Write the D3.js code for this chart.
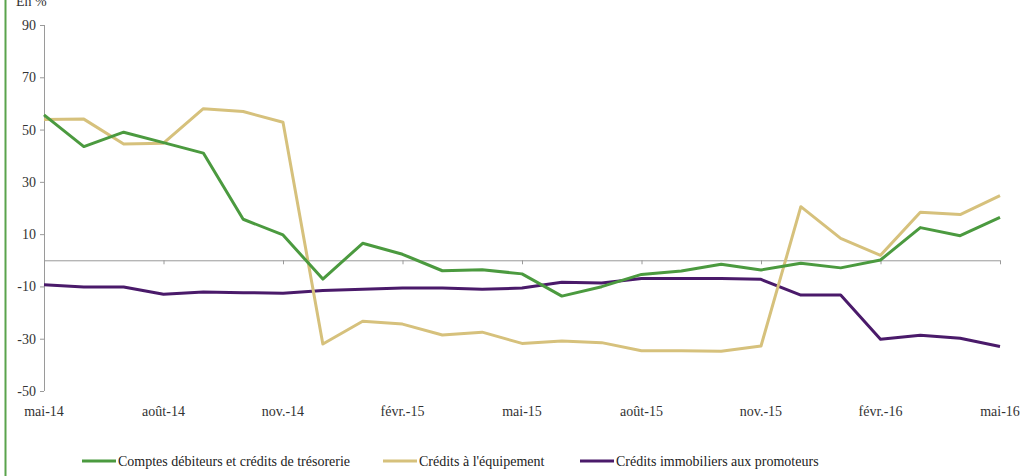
<!DOCTYPE html>
<html><head><meta charset="utf-8">
<script src="https://cdn.jsdelivr.net/npm/d3@7"></script>
<style>body{margin:0;background:#fff}svg{display:block}</style>
</head><body><div id="c"></div>
<script>
const months = ["mai-14","juin-14","juil.-14","août-14","sept.-14","oct.-14","nov.-14","déc.-14","janv.-15","févr.-15","mars-15","avr.-15","mai-15","juin-15","juil.-15","août-15","sept.-15","oct.-15","nov.-15","déc.-15","janv.-16","févr.-16","mars-16","avr.-16","mai-16"];
const comptes = [55.6,43.5,49,45,41,15.7,9.7,-7.2,6.5,2.3,-4,-3.6,-5.2,-13.7,-10.1,-5.4,-4.1,-1.5,-3.7,-1.1,-2.9,0.1,12.5,9.4,16.4];
const equipement = [53.9,54,44.5,44.8,58,56.9,52.8,-32,-23.3,-24.4,-28.6,-27.5,-31.8,-30.9,-31.5,-34.6,-34.6,-34.8,-32.8,20.5,8.4,1.9,18.4,17.5,24.7];
const promoteurs = [-9.4,-10.2,-10.2,-13,-12.1,-12.4,-12.6,-11.6,-11.1,-10.6,-10.6,-11.1,-10.6,-8.4,-8.7,-7,-7,-7,-7.3,-13.3,-13.3,-30.2,-28.7,-29.8,-33];
const seriesNames = ["Comptes débiteurs et crédits de trésorerie","Crédits à l'équipement","Crédits immobiliers aux promoteurs"];
const seriesColors = ["#4b9a3f","#d6c17c","#4a1a6a"];
const yTicks = [-50,-30,-10,10,30,50,70,90];
const xTickLabels = ["mai-14","août-14","nov.-14","févr.-15","mai-15","août-15","nov.-15","févr.-16","mai-16"];

const FONT="'Liberation Serif', 'DejaVu Serif', serif";
const W=1027,H=476;
const svg=d3.select("#c").append("svg").attr("width",W).attr("height",H).style("font-family",FONT);
const x=d3.scalePoint().domain(months).range([44,1000]);
const y=d3.scaleLinear().domain([-50,90]).range([391,25]);
const grey="#9a9a9a";

svg.append("line").attr("x1",5.5).attr("x2",5.5).attr("y1",0).attr("y2",H).attr("stroke","#5aa34c").attr("stroke-width",2);

svg.append("text").attr("x",16).attr("y",6).style("font-family",FONT).attr("font-size",14).attr("fill","#333").text("En %");

const ya=svg.append("g").attr("transform","translate(44,0)").call(d3.axisLeft(y).tickValues(yTicks).tickSize(4).tickFormat(d=>String(d)));
ya.attr("font-family",null);
ya.select(".domain").attr("stroke",grey).attr("d","M0.5,25V391");
ya.selectAll(".tick line").attr("stroke",grey);
ya.selectAll(".tick text").style("font-family",FONT).attr("font-size",14).attr("fill","#333").attr("x",-8);

const xa=svg.append("g").attr("transform",`translate(0,${y(0)})`).call(d3.axisBottom(x).tickValues(xTickLabels).tickSize(4).tickFormat(""));
xa.select(".domain").attr("stroke",grey).attr("d",`M44,0.5H1000`);
xa.selectAll(".tick line").attr("stroke",grey);

svg.append("g").selectAll("text").data(xTickLabels).join("text")
  .attr("x",d=>x(d)).attr("y",416).attr("text-anchor","middle").style("font-family",FONT).attr("font-size",14).attr("fill","#333").text(d=>d);

const data=[comptes,equipement,promoteurs];
const line=d3.line().x((d,i)=>x(months[i])).y(d=>y(d));
[2,1,0].forEach(k=>{
  svg.append("path").datum(data[k]).attr("d",line).attr("fill","none").attr("stroke",seriesColors[k]).attr("stroke-width",3).attr("stroke-linejoin","round");
});

const legX=[82,383,580];
const lg=svg.append("g");
seriesNames.forEach((n,k)=>{
  lg.append("line").attr("x1",legX[k]).attr("x2",legX[k]+34).attr("y1",461).attr("y2",461).attr("stroke",seriesColors[k]).attr("stroke-width",3);
  lg.append("text").attr("x",legX[k]+36).attr("y",466).style("font-family",FONT).attr("font-size",14).attr("fill","#222").text(n);
});
</script></body></html>
